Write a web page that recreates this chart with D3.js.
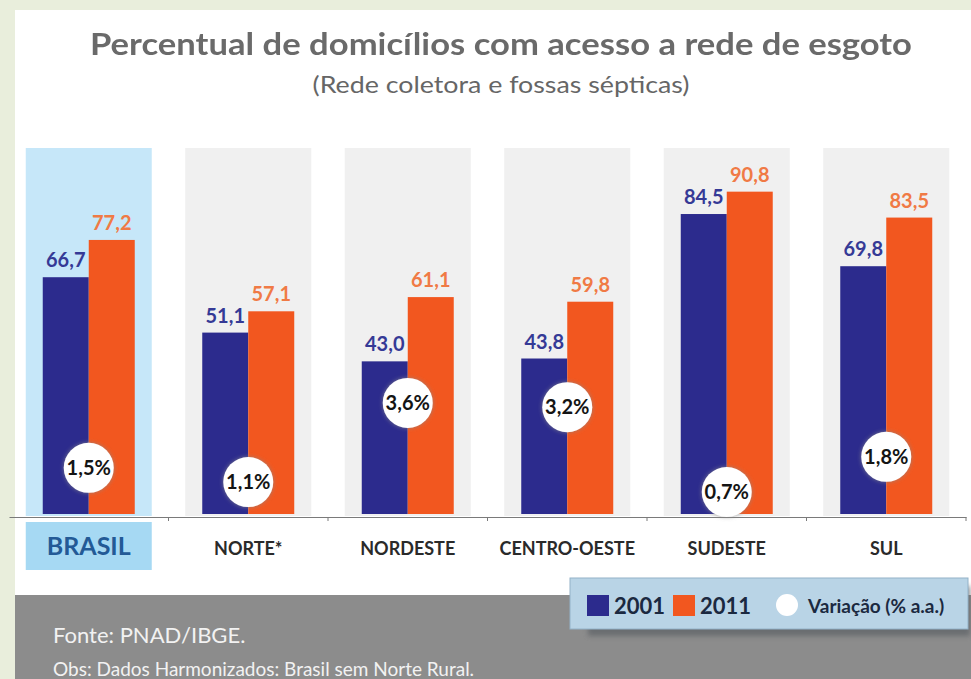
<!DOCTYPE html>
<html>
<head>
<meta charset="utf-8">
<script src="https://cdn.jsdelivr.net/npm/d3@7"></script>
<style>
  html, body { margin: 0; padding: 0; background: #e9eedc; }
  svg { display: block; font-family: Lato, "Open Sans", sans-serif; }
</style>
</head>
<body>
<svg id="chart" width="971" height="679"></svg>
<script>
// Regions and survey years
const categories = ["BRASIL", "NORTE*", "NORDESTE", "CENTRO-OESTE", "SUDESTE", "SUL"];
const seriesNames = ["2001", "2011"];

// Share of households with sewage access (%)
const values2001 = [66.7, 51.1, 43.0, 43.8, 84.5, 69.8];
const values2011 = [77.2, 57.1, 61.1, 59.8, 90.8, 83.5];

// Average yearly change (% a.a.)
const variation = [1.5, 1.1, 3.6, 3.2, 0.7, 1.8];

// Text content
const titleText = "Percentual de domicílios com acesso a rede de esgoto";
const subtitleText = "(Rede coletora e fossas sépticas)";
const legendRateText = "Variação (% a.a.)";
const sourceText = "Fonte: PNAD/IBGE.";
const noteText = "Obs: Dados Harmonizados: Brasil sem Norte Rural.";

// Layout: vertical placement of each rate badge, in y-scale units
const badgeLevel = [13.0, 9.0, 31.3, 30.1, 6.2, 16.1];

const W = 971, H = 679;
const svg = d3.select("#chart");
const ptBR = d3.formatLocale({ decimal: ",", thousands: ".", grouping: [3], currency: ["R$", ""] });
const fmt1 = ptBR.format(".1f");

const barColor = d3.scaleOrdinal(seriesNames, ["#2c2b8d", "#f2571f"]);
const labelColor = d3.scaleOrdinal(seriesNames, ["#353a96", "#f07a45"]);

const series = seriesNames.map((s, k) => ({ name: s, values: k === 0 ? values2001 : values2011 }));

// Scales
const x = d3.scaleBand(categories, [9, 966]).padding(0);
const xs = d3.scaleBand(seriesNames, [-46, 46]).padding(0);
const y = d3.scaleLinear([0, 100], [514, 159]);
const cx = c => x(c) + x.bandwidth() / 2;

// Filters
const defs = svg.append("defs");
const glow = defs.append("filter").attr("id", "glow").attr("x", "-40%").attr("y", "-40%").attr("width", "180%").attr("height", "180%");
glow.append("feDropShadow").attr("dx", 0).attr("dy", 0).attr("stdDeviation", 2.2).attr("flood-color", "#8a8a8a").attr("flood-opacity", 0.8);
const soft = defs.append("filter").attr("id", "soft").attr("x", "-10%").attr("y", "-30%").attr("width", "120%").attr("height", "160%");
soft.append("feGaussianBlur").attr("stdDeviation", 2.5);
const tsoft = defs.append("filter").attr("id", "tsoft");
tsoft.append("feGaussianBlur").attr("stdDeviation", 0.35);

// Backgrounds
svg.append("rect").attr("width", W).attr("height", H).attr("fill", "#e9eedc");
svg.append("rect").attr("x", 15).attr("y", 10).attr("width", W - 15).attr("height", 585).attr("fill", "#ffffff");
svg.append("rect").attr("x", 15).attr("y", 595).attr("width", W - 15).attr("height", H - 595).attr("fill", "#8c8c8c");

// Title block
svg.append("text")
  .attr("x", 501).attr("y", 55)
  .attr("text-anchor", "middle")
  .attr("font-size", 31).attr("font-weight", 700)
  .attr("fill", "#6b6b6b")
  .attr("textLength", 822).attr("lengthAdjust", "spacingAndGlyphs")
  .attr("filter", "url(#tsoft)")
  .text(titleText);
svg.append("text")
  .attr("x", 501).attr("y", 93)
  .attr("text-anchor", "middle")
  .attr("font-size", 23)
  .attr("fill", "#666666")
  .attr("textLength", 377).attr("lengthAdjust", "spacingAndGlyphs")
  .text(subtitleText);

// Category panels
svg.append("g").selectAll("rect")
  .data(categories)
  .join("rect")
  .attr("x", c => cx(c) - 63)
  .attr("y", 148)
  .attr("width", 126)
  .attr("height", 516 - 148)
  .attr("fill", (c, i) => i === 0 ? "#c6e7f9" : "#f0f0f0");

// Brasil label box
svg.append("rect")
  .attr("x", cx(categories[0]) - 63).attr("y", 522)
  .attr("width", 126).attr("height", 48)
  .attr("fill", "#a6d9f3");

// Bars
const groups = svg.append("g").selectAll("g")
  .data(categories)
  .join("g")
  .attr("transform", c => `translate(${cx(c)},0)`);

groups.selectAll("rect")
  .data((c, i) => series.map(s => ({ name: s.name, v: s.values[i] })))
  .join("rect")
  .attr("x", d => xs(d.name))
  .attr("width", xs.bandwidth())
  .attr("y", d => y(d.v))
  .attr("height", d => y(0) - y(d.v))
  .attr("fill", d => barColor(d.name));

groups.selectAll("text.val")
  .data((c, i) => series.map(s => ({ name: s.name, v: s.values[i] })))
  .join("text")
  .attr("class", "val")
  .attr("x", d => xs(d.name) + xs.bandwidth() / 2)
  .attr("y", d => y(d.v) - 10)
  .attr("text-anchor", "middle")
  .attr("font-size", 20).attr("font-weight", 700)
  .attr("fill", d => labelColor(d.name))
  .text(d => fmt1(d.v));

// Category axis
const axis = svg.append("g")
  .attr("transform", "translate(0,517)")
  .call(d3.axisBottom(x).tickSize(0).tickSizeOuter(0).tickPadding(0));
axis.select(".domain").attr("stroke", "#7a7a7a").attr("stroke-width", 1.2);
axis.selectAll(".tick text")
  .attr("y", 38).attr("dy", 0)
  .attr("font-family", "Lato, 'Open Sans', sans-serif")
  .attr("font-weight", 700)
  .attr("font-size", (c, i) => i === 0 ? 25 : 18)
  .attr("fill", (c, i) => i === 0 ? "#235a96" : "#2a2a2a");
axis.selectAll("line.sep")
  .data(d3.range(1, categories.length + 1))
  .join("line")
  .attr("class", "sep")
  .attr("x1", k => x.range()[0] + k * x.step())
  .attr("x2", k => x.range()[0] + k * x.step())
  .attr("y1", 0).attr("y2", 4)
  .attr("stroke", "#7a7a7a");

// Rate badges
const badges = svg.append("g").selectAll("g")
  .data(categories)
  .join("g")
  .attr("transform", (c, i) => `translate(${cx(c)},${y(badgeLevel[i])})`);
badges.append("circle")
  .attr("r", 25)
  .attr("fill", "#ffffff")
  .attr("filter", "url(#glow)");
badges.append("text")
  .attr("text-anchor", "middle")
  .attr("dy", "0.36em")
  .attr("font-size", 20).attr("font-weight", 700)
  .attr("fill", "#141414")
  .text((c, i) => fmt1(variation[i]) + "%");

// Legend
const lg = svg.append("g");
lg.append("rect")
  .attr("x", 588).attr("y", 586).attr("width", 382).attr("height", 50)
  .attr("fill", "#5f6468").attr("opacity", 0.75)
  .attr("filter", "url(#soft)");
lg.append("rect")
  .attr("x", 570).attr("y", 578).attr("width", 398).attr("height", 51)
  .attr("fill", "#b9d4e6").attr("stroke", "#93b2c8").attr("stroke-width", 1);

const legendItems = [
  { name: seriesNames[0], sx: 587, tx: 614 },
  { name: seriesNames[1], sx: 673, tx: 700 }
];
lg.selectAll("rect.sw")
  .data(legendItems)
  .join("rect")
  .attr("class", "sw")
  .attr("x", d => d.sx).attr("y", 595)
  .attr("width", 22).attr("height", 21)
  .attr("fill", d => barColor(d.name));
lg.selectAll("text.lt")
  .data(legendItems)
  .join("text")
  .attr("class", "lt")
  .attr("x", d => d.tx).attr("y", 614)
  .attr("font-size", 22).attr("font-weight", 700)
  .attr("fill", "#1b2940")
  .text(d => d.name);
lg.append("circle")
  .attr("cx", 787).attr("cy", 605).attr("r", 11)
  .attr("fill", "#ffffff");
lg.append("text")
  .attr("x", 808).attr("y", 613)
  .attr("font-size", 19).attr("font-weight", 700)
  .attr("fill", "#1b2940")
  .text(legendRateText);

// Footer notes
svg.append("text")
  .attr("x", 53).attr("y", 643)
  .attr("font-size", 22)
  .attr("fill", "#f2f2f2")
  .text(sourceText);
svg.append("text")
  .attr("x", 53).attr("y", 676)
  .attr("font-size", 19)
  .attr("fill", "#f2f2f2")
  .text(noteText);
</script>
</body>
</html>
